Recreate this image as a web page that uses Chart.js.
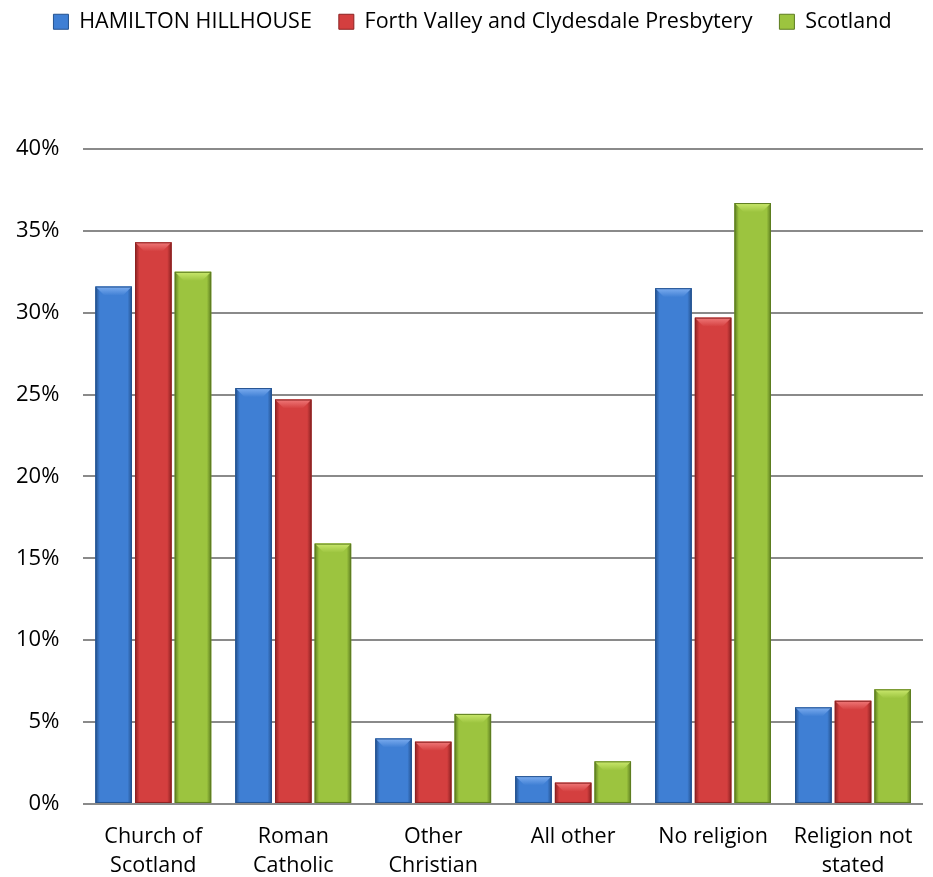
<!DOCTYPE html>
<html>
<head>
<meta charset="utf-8">
<script src="https://cdn.jsdelivr.net/npm/chart.js@4/dist/chart.umd.min.js"></script>
<style>
  html, body { margin: 0; padding: 0; background: #fff; }
  #wrap { width: 933px; height: 877px; }
</style>
</head>
<body>
<div id="wrap"><canvas id="religionChart"></canvas></div>
<script>
const categories = [['Church of', 'Scotland'], ['Roman', 'Catholic'], ['Other', 'Christian'], 'All other', 'No religion', ['Religion not', 'stated']];
const seriesNames = ['HAMILTON HILLHOUSE', 'Forth Valley and Clydesdale Presbytery', 'Scotland'];
const hamilton = [31.6, 25.4, 4.0, 1.7, 31.5, 5.9];
const presbytery = [34.3, 24.7, 3.8, 1.3, 29.7, 6.3];
const scotland = [32.5, 15.9, 5.5, 2.6, 36.7, 7.0];
const yTicks = [0, 5, 10, 15, 20, 25, 30, 35, 40];

// base, light, dark shades per series
const palette = [
  ['#3f7fd4', '#7eaef0', '#24528f'],
  ['#d43f3f', '#f07a7a', '#8c2222'],
  ['#9cc43f', '#cbe96e', '#5d7d20']
];

const FONT = '"Open Sans", Lato, sans-serif';

// shades each bar sideways and draws the bevel at its top
const bevel = {
  id: 'bevel',
  afterDatasetsDraw(chart) {
    const c = chart.ctx;
    chart.data.datasets.forEach((ds, i) => {
      chart.getDatasetMeta(i).data.forEach(bar => {
        const w = bar.width, l = bar.x - w / 2, r = bar.x + w / 2, t = bar.y, b = bar.base;
        c.save();
        const g = c.createLinearGradient(l, 0, r, 0);
        g.addColorStop(0, palette[i][2]);
        g.addColorStop(0.12, palette[i][0]);
        g.addColorStop(0.88, palette[i][0]);
        g.addColorStop(1, palette[i][2]);
        c.fillStyle = g;
        c.fillRect(l, t, w, b - t);
        const d = Math.min(9, (b - t) / 2);
        c.beginPath();
        c.moveTo(l, t); c.lineTo(r, t); c.lineTo(r - d, t + d); c.lineTo(l + d, t + d); c.closePath();
        const tg = c.createLinearGradient(0, t, 0, t + d);
        tg.addColorStop(0, palette[i][1]);
        tg.addColorStop(1, palette[i][0]);
        c.fillStyle = tg;
        c.fill();
        c.strokeStyle = palette[i][2];
        c.lineWidth = 1;
        c.strokeRect(l + 0.5, t + 0.5, w - 1, b - t - 1);
        c.restore();
      });
    });
  }
};

// tall legend box so the plot starts lower, nudged right to sit centred
const legendBox = {
  id: 'legendBox',
  beforeInit(chart) {
    const fit = chart.legend.fit;
    chart.legend.fit = function () {
      fit.bind(chart.legend)();
      this.height = 165;
    };
  },
  afterLayout(chart) {
    chart.legend.left += 15;
    chart.legend.right += 15;
  }
};

const sets = [hamilton, presbytery, scotland].map((vals, i) => ({
  label: seriesNames[i],
  data: vals,
  backgroundColor: palette[i][0],
  borderWidth: 0,
  barPercentage: 0.92,
  categoryPercentage: 0.85
}));

new Chart(document.getElementById('religionChart'), {
  type: 'bar',
  data: { labels: categories, datasets: sets },
  plugins: [bevel, legendBox],
  options: {
    responsive: true,
    maintainAspectRatio: false,
    animation: false,
    layout: { autoPadding: false, padding: { top: -16, right: 10, left: -8, bottom: -21 } },
    plugins: {
      legend: {
        position: 'top',
        labels: {
          color: '#000',
          font: { family: FONT, size: 21.5 },
          boxWidth: 15,
          boxHeight: 15,
          padding: 27,
          generateLabels(chart) {
            return seriesNames.map((n, i) => ({
              text: n,
              fillStyle: palette[i][0],
              strokeStyle: palette[i][2],
              lineWidth: 1,
              datasetIndex: i
            }));
          }
        }
      },
      tooltip: { enabled: false }
    },
    scales: {
      x: {
        grid: { display: false, drawTicks: false },
        border: { display: false },
        ticks: {
          color: '#000',
          font: { family: FONT, size: 21.5, lineHeight: 1.35 },
          maxRotation: 0,
          padding: 18
        }
      },
      y: {
        min: 0,
        max: 40,
        afterBuildTicks(axis) { axis.ticks = yTicks.map(v => ({ value: v })); },
        grid: { color: '#8a8a8a', lineWidth: 2, drawTicks: false },
        border: { display: false },
        ticks: {
          color: '#000',
          font: { family: FONT, size: 22 },
          padding: 24,
          callback: v => v + '%'
        }
      }
    }
  }
});
</script>
</body>
</html>
